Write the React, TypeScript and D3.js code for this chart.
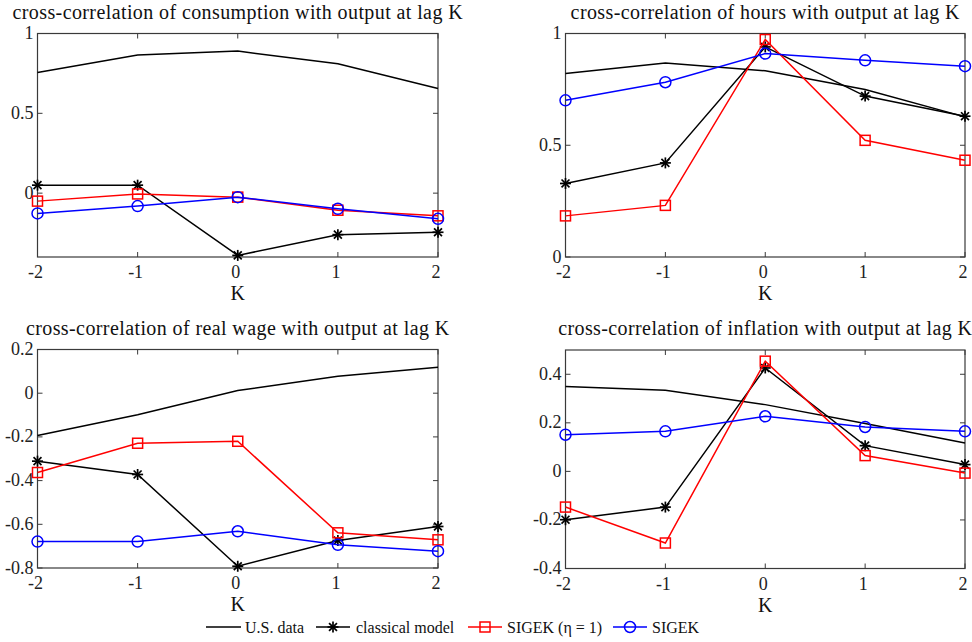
import React from "react";
import * as d3 from "d3";

const lags = [-2, -1, 0, 1, 2];
const xTicks = [-2, -1, 0, 1, 2];

// consumption
const consUS = [0.756, 0.865, 0.89, 0.81, 0.655];
const consClassical = [0.05, 0.05, -0.39, -0.26, -0.245];
const consSigekEta1 = [-0.05, -0.005, -0.025, -0.107, -0.142];
const consSigek = [-0.127, -0.081, -0.025, -0.098, -0.161];
const consTicks = [0, 0.5, 1];

// hours
const hoursUS = [0.821, 0.868, 0.833, 0.749, 0.627];
const hoursClassical = [0.329, 0.421, 0.94, 0.72, 0.63];
const hoursSigekEta1 = [0.184, 0.231, 0.973, 0.522, 0.433];
const hoursSigek = [0.701, 0.782, 0.91, 0.88, 0.854];
const hoursTicks = [0, 0.5, 1];

// real wage
const wageUS = [-0.194, -0.099, 0.012, 0.078, 0.119];
const wageClassical = [-0.311, -0.372, -0.792, -0.674, -0.61];
const wageSigekEta1 = [-0.363, -0.229, -0.22, -0.639, -0.671];
const wageSigek = [-0.679, -0.679, -0.632, -0.694, -0.723];
const wageTicks = [-0.8, -0.6, -0.4, -0.2, 0, 0.2];

// inflation
const inflUS = [0.35, 0.334, 0.275, 0.197, 0.117];
const inflClassical = [-0.199, -0.147, 0.426, 0.106, 0.028];
const inflSigekEta1 = [-0.147, -0.295, 0.454, 0.065, -0.007];
const inflSigek = [0.151, 0.165, 0.227, 0.183, 0.165];
const inflTicks = [-0.4, -0.2, 0, 0.2, 0.4];

const seriesNames = ["U.S. data", "classical model", "SIGEK (η = 1)", "SIGEK"];

const panels = [
  { title: "cross-correlation of consumption with output at lag K", domain: [-0.4, 1], ticks: consTicks, series: [consUS, consClassical, consSigekEta1, consSigek] },
  { title: "cross-correlation of hours with output at lag K", domain: [0, 1], ticks: hoursTicks, series: [hoursUS, hoursClassical, hoursSigekEta1, hoursSigek] },
  { title: "cross-correlation of real wage with output at lag K", domain: [-0.8, 0.2], ticks: wageTicks, series: [wageUS, wageClassical, wageSigekEta1, wageSigek] },
  { title: "cross-correlation of inflation with output at lag K", domain: [-0.4, 0.5], ticks: inflTicks, series: [inflUS, inflClassical, inflSigekEta1, inflSigek] },
];

const layout = [
  { x0: 37.5, x1: 438, y0: 33.5, y1: 257 },
  { x0: 565.5, x1: 965, y0: 33.5, y1: 257 },
  { x0: 37.5, x1: 438, y0: 349.5, y1: 568 },
  { x0: 565.5, x1: 965, y0: 350, y1: 568.5 },
];

const styles = [
  { color: "#000", marker: "none" },
  { color: "#000", marker: "star" },
  { color: "#ff0000", marker: "square" },
  { color: "#0000ff", marker: "circle" },
];

const FONT = "'Liberation Serif', 'Times New Roman', serif";

function Marker({ type, x, y, color }: { type: string; x: number; y: number; color: string }) {
  if (type === "star") {
    const r = 5.5;
    const d = r * 0.72;
    return (
      <g stroke={color} strokeWidth={1.7}>
        <line x1={x - r} y1={y} x2={x + r} y2={y} />
        <line x1={x} y1={y - r} x2={x} y2={y + r} />
        <line x1={x - d} y1={y - d} x2={x + d} y2={y + d} />
        <line x1={x - d} y1={y + d} x2={x + d} y2={y - d} />
      </g>
    );
  }
  if (type === "square") {
    return <rect x={x - 5} y={y - 5} width={10} height={10} fill="none" stroke={color} strokeWidth={1.5} />;
  }
  if (type === "circle") {
    return <circle cx={x} cy={y} r={5.5} fill="none" stroke={color} strokeWidth={1.5} />;
  }
  return null;
}

function Panel({ p, l }: { p: any; l: any }) {
  const x = d3.scaleLinear().domain([-2, 2]).range([l.x0, l.x1]);
  const y = d3.scaleLinear().domain(p.domain).range([l.y1, l.y0]);
  const line = d3
    .line<number>()
    .x((_, i) => x(lags[i]))
    .y((v) => y(v));
  const cx = (l.x0 + l.x1) / 2;
  const tl = 5;
  return (
    <g>
      <text x={cx} y={l.y0 - 15} textAnchor="middle" fontFamily={FONT} fontSize={20} letterSpacing={0.4} fill="#111">
        {p.title}
      </text>
      <rect x={l.x0} y={l.y0} width={l.x1 - l.x0} height={l.y1 - l.y0} fill="white" stroke="#3a3a3a" strokeWidth={1.2} />
      {xTicks.map((t) => (
        <g key={"x" + t}>
          <line x1={x(t)} x2={x(t)} y1={l.y1} y2={l.y1 - tl} stroke="#3a3a3a" />
          <line x1={x(t)} x2={x(t)} y1={l.y0} y2={l.y0 + tl} stroke="#3a3a3a" />
          <text x={x(t) - 2} y={l.y1 + 21} textAnchor="middle" fontFamily={FONT} fontSize={18} fill="#222">
            {t}
          </text>
        </g>
      ))}
      {p.ticks.map((t: number) => (
        <g key={"y" + t}>
          <line x1={l.x0} x2={l.x0 + tl} y1={y(t)} y2={y(t)} stroke="#3a3a3a" />
          <line x1={l.x1} x2={l.x1 - tl} y1={y(t)} y2={y(t)} stroke="#3a3a3a" />
          <text x={l.x0 - 4} y={y(t) + 5.5} textAnchor="end" fontFamily={FONT} fontSize={18} fill="#222">
            {t}
          </text>
        </g>
      ))}
      <text x={cx} y={l.y1 + 43} textAnchor="middle" fontFamily={FONT} fontSize={20} fill="#111">
        K
      </text>
      {p.series.map((s: number[], si: number) => (
        <g key={si}>
          <path d={line(s) || ""} fill="none" stroke={styles[si].color} strokeWidth={1.5} />
          {s.map((v, i) => (
            <Marker key={i} type={styles[si].marker} x={x(lags[i])} y={y(v)} color={styles[si].color} />
          ))}
        </g>
      ))}
    </g>
  );
}

const legendPos = [
  { lx0: 206, lx1: 241, tx: 245 },
  { lx0: 316, lx1: 350, tx: 356 },
  { lx0: 468, lx1: 502, tx: 507 },
  { lx0: 613, lx1: 647, tx: 652 },
];

export default function App() {
  const ly = 627;
  return (
    <svg width={972} height={642} style={{ position: "absolute", left: 0, top: 0, background: "white" }}>
      <rect width={972} height={642} fill="white" />
      {panels.map((p, i) => (
        <Panel key={i} p={p} l={layout[i]} />
      ))}
      {seriesNames.map((n, i) => (
        <g key={n}>
          <line x1={legendPos[i].lx0} x2={legendPos[i].lx1} y1={ly} y2={ly} stroke={styles[i].color} strokeWidth={1.5} />
          <Marker type={styles[i].marker} x={(legendPos[i].lx0 + legendPos[i].lx1) / 2} y={ly} color={styles[i].color} />
          <text x={legendPos[i].tx} y={ly + 6} fontFamily={FONT} fontSize={16} fill="#111">
            {n}
          </text>
        </g>
      ))}
    </svg>
  );
}
